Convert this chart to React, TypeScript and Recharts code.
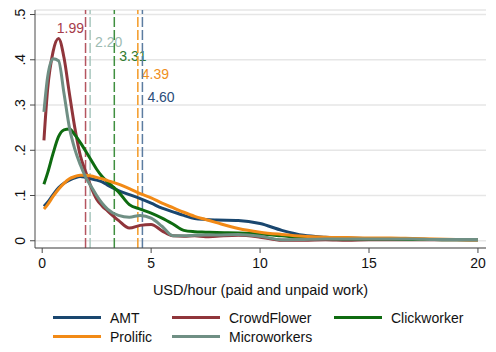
import {
  CartesianGrid,
  Label,
  Legend,
  Line,
  LineChart,
  ReferenceLine,
  XAxis,
  YAxis,
} from "recharts";

const xs = [
  0.08, 0.25, 0.5, 0.75, 1, 1.25, 1.5, 1.75, 2, 2.25, 2.5, 2.75, 3, 3.5, 4, 4.5, 5, 5.5, 6, 6.5,
  7, 7.5, 8, 9, 10, 11, 12, 13, 14, 15, 16, 17, 18, 19, 20,
];

const amt = [
  0.076, 0.085, 0.102, 0.117, 0.127, 0.134, 0.139, 0.142, 0.14, 0.137, 0.134, 0.13, 0.123, 0.111,
  0.102, 0.093, 0.083, 0.072, 0.064, 0.056, 0.049, 0.047, 0.046, 0.045, 0.038, 0.023, 0.012, 0.008,
  0.006, 0.005, 0.005, 0.004, 0.003, 0.003, 0.002,
];
const crowdflower = [
  0.222, 0.335, 0.418, 0.447, 0.405, 0.325, 0.249, 0.188, 0.152, 0.118, 0.092, 0.077, 0.066, 0.045,
  0.028, 0.034, 0.036, 0.022, 0.011, 0.01, 0.011, 0.009, 0.01, 0.012, 0.008, 0.001, 0.001, 0.002,
  0.001, 0.002, 0.002, 0.002, 0.002, 0.002, 0.002,
];
const clickworker = [
  0.125, 0.15, 0.193, 0.23, 0.245, 0.247, 0.234, 0.217, 0.198, 0.178, 0.158, 0.142, 0.13, 0.108,
  0.08, 0.07, 0.061, 0.05, 0.037, 0.023, 0.02, 0.019, 0.018, 0.017, 0.015, 0.011, 0.007, 0.005,
  0.004, 0.004, 0.004, 0.003, 0.003, 0.002, 0.002,
];
const prolific = [
  0.07, 0.08, 0.098, 0.114, 0.127, 0.137, 0.142, 0.145, 0.145, 0.143, 0.14, 0.137, 0.133, 0.125,
  0.115, 0.104, 0.095, 0.083, 0.073, 0.063, 0.054, 0.047, 0.04, 0.027, 0.019, 0.014, 0.01, 0.008,
  0.007, 0.006, 0.006, 0.005, 0.004, 0.003, 0.002,
];
const microworkers = [
  0.285, 0.362, 0.402, 0.398, 0.326, 0.25, 0.202, 0.168, 0.14, 0.12, 0.1, 0.083, 0.07, 0.056, 0.052,
  0.056, 0.05, 0.032, 0.011, 0.011, 0.012, 0.013, 0.013, 0.014, 0.01, 0.002, 0.003, 0.004, 0.004,
  0.004, 0.004, 0.004, 0.003, 0.003, 0.003,
];

const seriesNames = ["AMT", "CrowdFlower", "Clickworker", "Prolific", "Microworkers"];
const seriesValues = [amt, crowdflower, clickworker, prolific, microworkers];

// mean wage per platform (dashed lines)
const meanWages = [1.99, 2.2, 3.31, 4.39, 4.6];
const meanLabels = ["1.99", "2.20", "3.31", "4.39", "4.60"];

const xTicks = [0, 5, 10, 15, 20];
const yTicks = [0, 0.1, 0.2, 0.3, 0.4, 0.5];
const yTickLabels = ["0", ".1", ".2", ".3", ".4", ".5"];

const FONT = "'Liberation Sans', Arial, sans-serif";
const AXIS = "#4a4a4a";
const COLORS = ["#1a476f", "#90353b", "#0e6b10", "#f28a16", "#6f8f84"];

const MEAN_STYLE = [
  { line: "#b4555f", text: "#a63c4a", dx: -1.5, anchor: "end", y: 33 },
  { line: "#a9c7be", text: "#9dbbb2", dx: 5, anchor: "start", y: 46.5 },
  { line: "#3f8f3f", text: "#2e7a2e", dx: 5, anchor: "start", y: 60.5 },
  { line: "#f39a26", text: "#ef8f1d", dx: 4, anchor: "start", y: 78.5 },
  { line: "#5c7ca0", text: "#2b4d7a", dx: 5, anchor: "start", y: 101.5 },
];

const LEG_X = [53, 172, 334];
const LEG_Y = [317.5, 336.5];

const data = xs.map((x, i) => {
  const row: Record<string, number> = { x };
  seriesNames.forEach((n, s) => (row[n] = seriesValues[s][i]));
  return row;
});

const YTick = ({ y, payload, index }: any) => (
  <text
    x={25}
    y={y}
    transform={`rotate(-90 25 ${y})`}
    textAnchor="middle"
    fontSize={14}
    fontFamily={FONT}
    fill="#111"
  >
    {yTickLabels[index] ?? String(payload.value)}
  </text>
);

const renderLegend = (props: any) => {
  const payload = [...(props.payload ?? [])].sort(
    (a: any, b: any) => seriesNames.indexOf(a.value) - seriesNames.indexOf(b.value)
  );
  return (
    <svg width={496} height={352} style={{ display: "block" }}>
      {payload.map((e: any, i: number) => {
        const x = LEG_X[i % 3];
        const y = LEG_Y[Math.floor(i / 3)];
        return (
          <g key={e.value}>
            <line x1={x} x2={x + 48} y1={y} y2={y} stroke={e.color} strokeWidth={3} />
            <text x={x + 57} y={y + 5} fontSize={14} fontFamily={FONT} fill="#111">
              {e.value}
            </text>
          </g>
        );
      })}
    </svg>
  );
};

export default function App() {
  return (
    <div style={{ position: "absolute", left: 0, top: 0, width: 496, height: 352, background: "#fff" }}>
      <LineChart
        width={496}
        height={352}
        data={data}
        margin={{ top: 10, right: 10, left: 0, bottom: 74 }}
      >
        <CartesianGrid vertical={false} stroke="#e6e6e6" strokeWidth={1.5} />
        <XAxis
          dataKey="x"
          type="number"
          domain={[-0.33, 20.37]}
          ticks={xTicks}
          allowDataOverflow
          height={30}
          tickSize={5}
          tickMargin={5}
          stroke={AXIS}
          tick={{ fontSize: 14, fontFamily: FONT, fill: "#111" }}
        >
          <Label
            content={({ viewBox }: any) => (
              <text
                x={viewBox.x + viewBox.width / 2}
                y={294.5}
                textAnchor="middle"
                fontSize={14.5}
                fontFamily={FONT}
                fill="#111"
              >
                USD/hour (paid and unpaid work)
              </text>
            )}
          />
        </XAxis>
        <YAxis
          type="number"
          domain={[-0.016, 0.51]}
          ticks={yTicks}
          allowDataOverflow
          width={35}
          tickSize={5}
          stroke={AXIS}
          tick={<YTick />}
        />
        {meanWages.map((m, i) => {
          const st = MEAN_STYLE[i];
          return (
            <ReferenceLine
              key={meanLabels[i]}
              x={m}
              stroke={st.line}
              strokeWidth={1.5}
              strokeDasharray="10 3"
              label={(p: any) => (
                <text
                  x={p.viewBox.x + st.dx}
                  y={st.y}
                  textAnchor={st.anchor}
                  fontSize={14}
                  fontFamily={FONT}
                  fill={st.text}
                >
                  {meanLabels[i]}
                </text>
              )}
            />
          );
        })}
        {seriesNames.map((n, i) => (
          <Line
            key={n}
            dataKey={n}
            name={n}
            type="monotone"
            stroke={COLORS[i]}
            strokeWidth={3}
            dot={false}
            activeDot={false}
            isAnimationActive={false}
          />
        ))}
        <Legend
          layout="horizontal"
          verticalAlign="middle"
          align="center"
          content={renderLegend}
          wrapperStyle={{ position: "absolute", left: 0, top: 0, width: 496, height: 352, pointerEvents: "none" }}
        />
      </LineChart>
    </div>
  );
}
